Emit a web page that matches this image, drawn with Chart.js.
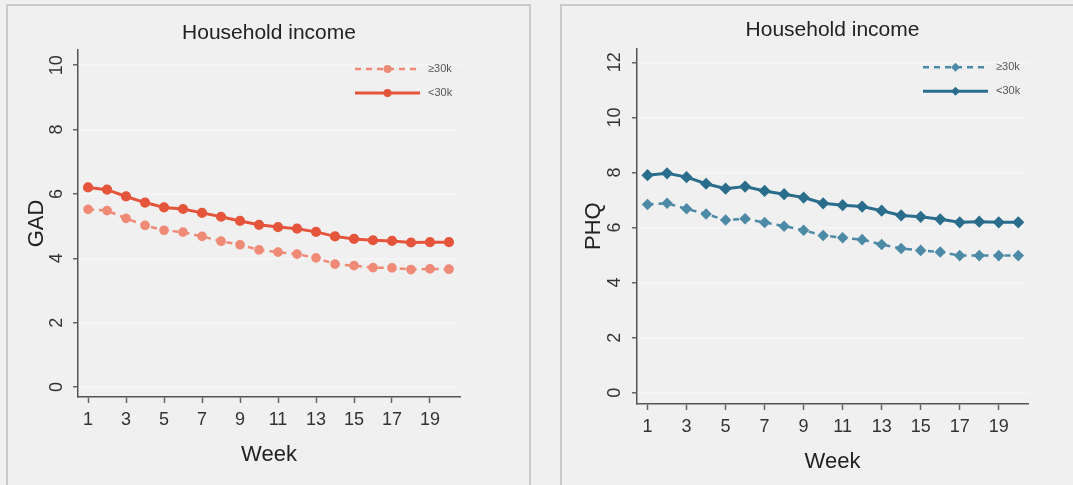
<!DOCTYPE html>
<html>
<head>
<meta charset="utf-8">
<script src="https://cdn.jsdelivr.net/npm/chart.js@4/dist/chart.umd.min.js"></script>
<style>
  body{margin:0;background:#f0f0f0;width:1073px;height:485px;overflow:hidden;position:relative;font-family:"Liberation Sans",Arial,sans-serif;}
  .panel{position:absolute;top:4px;height:520px;border:2px solid #cacaca;background:#f0f0f0;}
  .box{position:absolute;top:5px;height:480px;}
</style>
</head>
<body>
<div class="panel" style="left:6px;width:521px"></div>
<div class="panel" style="left:560px;width:530px"></div>
<div class="box" style="left:7px;width:522px"><canvas id="gadChart"></canvas></div>
<div class="box" style="left:561px;width:512px"><canvas id="phqChart"></canvas></div>
<script>
// weeks and tick labels
const weeks=[1,2,3,4,5,6,7,8,9,10,11,12,13,14,15,16,17,18,19,20];
const weekTicks=[1,3,5,7,9,11,13,15,17,19];
const gadTicks=[0,2,4,6,8,10];
const phqTicks=[0,2,4,6,8,10,12];
const seriesNames=['\u226530k','<30k'];

// GAD values
const gadHigh=[5.52,5.48,5.24,5.02,4.87,4.81,4.68,4.53,4.42,4.26,4.19,4.13,4.01,3.82,3.77,3.71,3.70,3.65,3.67,3.66];
const gadLow=[6.20,6.13,5.92,5.73,5.58,5.53,5.41,5.29,5.16,5.04,4.97,4.92,4.82,4.68,4.60,4.56,4.54,4.49,4.50,4.50];

// PHQ values
const phqHigh=[6.84,6.88,6.68,6.49,6.27,6.32,6.18,6.05,5.90,5.71,5.63,5.56,5.38,5.24,5.17,5.11,4.98,4.98,4.98,4.98];
const phqLow=[7.90,7.97,7.83,7.59,7.41,7.49,7.33,7.21,7.09,6.88,6.81,6.76,6.61,6.44,6.39,6.30,6.19,6.21,6.19,6.19];

const FONT='"Liberation Sans", Arial, sans-serif';

function pts(arr){
  return arr.map((v,i)=>({x:weeks[i],y:v}));
}

// small stata-like legend inside the plot, top right
const legendInside={
  id:'legendInside',
  afterDraw(chart){
    const ctx=chart.ctx;
    const a=chart.chartArea;
    const rows=[19,43];
    chart.data.datasets.forEach((ds,i)=>{
      const y=a.top+rows[i];
      const x1=a.right-105, x2=a.right-40, cx=(x1+x2)/2;
      const r=ds.pointStyle==='circle'?4:4.5;
      ctx.save();
      ctx.strokeStyle=ds.borderColor;
      ctx.lineWidth=ds.borderWidth;
      ctx.setLineDash(ds.borderDash||[]);
      ctx.beginPath();ctx.moveTo(x1,y);ctx.lineTo(x2,y);ctx.stroke();
      ctx.setLineDash([]);
      ctx.fillStyle=ds.pointBackgroundColor;
      ctx.beginPath();
      if(ds.pointStyle==='circle'){ctx.arc(cx,y,r,0,Math.PI*2);}
      else{ctx.moveTo(cx,y-r);ctx.lineTo(cx+r,y);ctx.lineTo(cx,y+r);ctx.lineTo(cx-r,y);ctx.closePath();}
      ctx.fill();
      ctx.fillStyle='#555';
      ctx.font='11px '+FONT;
      ctx.textBaseline='middle';
      ctx.textAlign='left';
      ctx.fillText(ds.label,a.right-32,y);
      ctx.restore();
    });
  }
};

function makeChart(id,cfg){
  const ctx=document.getElementById(id);
  return new Chart(ctx,{
    type:'line',
    data:{
      datasets:[{
        label:seriesNames[0],
        data:pts(cfg.high),
        borderColor:cfg.light,
        backgroundColor:cfg.light,
        pointBackgroundColor:cfg.light,
        pointBorderColor:cfg.light,
        borderWidth:2.5,
        borderDash:[6,5],
        pointStyle:cfg.marker,
        pointRadius:cfg.radius,
        tension:0
      },{
        label:seriesNames[1],
        data:pts(cfg.low),
        borderColor:cfg.dark,
        backgroundColor:cfg.dark,
        pointBackgroundColor:cfg.dark,
        pointBorderColor:cfg.dark,
        borderWidth:3,
        pointStyle:cfg.marker,
        pointRadius:cfg.radius,
        tension:0
      }]
    },
    options:{
      responsive:true,
      maintainAspectRatio:false,
      animation:false,
      layout:{padding:{right:cfg.padRight,left:0,top:0,bottom:0}},
      plugins:{
        legend:{display:false},
        tooltip:{enabled:false},
        title:{
          display:true,
          fullSize:false,
          text:'Household income',
          color:'#222',
          font:{family:FONT,size:21,weight:'normal'},
          padding:{top:cfg.titleTop,bottom:cfg.titleBottom}
        }
      },
      scales:{
        x:{
          type:'linear',
          min:cfg.xMin,max:cfg.xMax,
          afterBuildTicks:(s)=>{s.ticks=weekTicks.map(v=>({value:v}));},
          afterFit:(s)=>{s.height=cfg.xHeight;},
          grid:{drawOnChartArea:false,drawTicks:true,tickLength:6,tickColor:'#666',tickWidth:1.5},
          border:{color:'#555',width:1.5},
          ticks:{color:'#333',font:{family:FONT,size:18},padding:6,maxRotation:0,autoSkip:false},
          title:{display:true,text:'Week',color:'#222',font:{family:FONT,size:22},padding:{top:0,bottom:cfg.xTitlePad}}
        },
        y:{
          type:'linear',
          min:cfg.yMin,max:cfg.yMax,
          afterBuildTicks:(s)=>{s.ticks=cfg.yTicks.map(v=>({value:v}));},
          afterFit:(s)=>{s.width=cfg.yWidth;},
          grid:{color:'#f5f5f5',lineWidth:1.5,drawTicks:true,tickLength:5,tickColor:'#666',tickWidth:1.5},
          border:{color:'#555',width:1.5},
          ticks:{color:'#333',font:{family:FONT,size:18},padding:cfg.yTickPad,minRotation:90,maxRotation:90,crossAlign:'center',autoSkip:false},
          title:{display:true,text:cfg.yTitle,color:'#222',font:{family:FONT,size:22},padding:{top:cfg.yTitlePad,bottom:0}}
        }
      }
    },
    plugins:[legendInside]
  });
}

makeChart('gadChart',{
  high:gadHigh,low:gadLow,
  light:'#ef8a77',dark:'#e5553b',marker:'circle',radius:3.6,
  yTicks:gadTicks,yTitle:'GAD',
  xMin:0.47,xMax:20.58,yMin:-0.31,yMax:10.47,
  padRight:69,xHeight:88,yWidth:71,
  titleTop:15.4,titleBottom:4.4,
  xTitlePad:16.8,yTitlePad:17,yTickPad:6
});

makeChart('phqChart',{
  high:phqHigh,low:phqLow,
  light:'#4d8aa6',dark:'#2b6d8c',marker:'rectRot',radius:4,
  yTicks:phqTicks,yTitle:'PHQ',
  xMin:0.46,xMax:20.5,yMin:-0.41,yMax:12.51,
  padRight:45,xHeight:81,yWidth:76,
  titleTop:13.1,titleBottom:5,
  xTitlePad:9.4,yTitlePad:19.4,yTickPad:6.7
});
</script>
</body>
</html>
